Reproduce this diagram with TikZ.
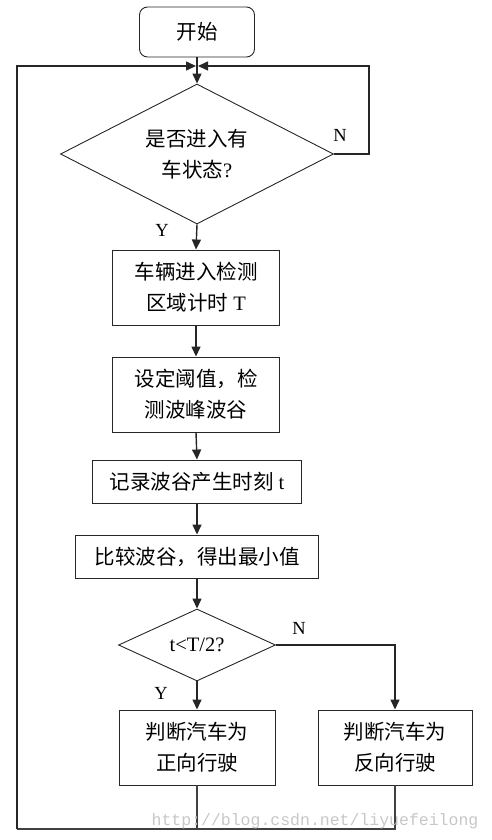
\documentclass[tikz,border=0pt]{standalone}
\usepackage{fontspec}
\setmainfont{Liberation Serif}
\newfontfamily\cjk{Noto Sans CJK SC}
\newfontfamily\wmfont{Liberation Mono}
\usetikzlibrary{shapes.geometric,arrows.meta}
\newcommand{\zh}[1]{{\cjk #1}}
\begin{document}
\begin{tikzpicture}[x=1pt,y=-1pt,
  base/.style={draw=black!85, line width=0.9pt, inner sep=0pt, align=center,
    font=\fontsize{20.5}{31}\selectfont},
  stepbox/.style={base, rectangle},
  startbox/.style={base, rectangle, rounded corners=8pt},
  decision/.style={base, diamond, aspect=2},
  flow/.style={draw=black!85, line width=1.4pt, -{Triangle[length=10pt,width=9pt]}},
  plain/.style={draw=black!75, line width=1.4pt},
  lab/.style={font=\fontsize{18.5}{20}\selectfont, inner sep=0pt}]
\useasboundingbox (0,0) rectangle (492,840);

\node[startbox, minimum width=115pt, minimum height=50pt] (start) at (197,32) {\zh{开始}};
\coordinate (j) at (197,66);
\node[decision, minimum width=273pt, minimum height=140pt] (d1) at (197,154)
  {\zh{是否进入有}\\\zh{车状态}?};
\node[stepbox, minimum width=167pt, minimum height=75pt] (b1) at (196,287.5)
  {\zh{车辆进入检测}\\\zh{区域计时} T};
\node[stepbox, minimum width=167pt, minimum height=75pt] (b2) at (196,394.5)
  {\zh{设定阈值，检}\\\zh{测波峰波谷}};
\node[stepbox, minimum width=209pt, minimum height=43pt] (b3) at (197,481.5)
  {\zh{记录波谷产生时刻} t};
\node[stepbox, minimum width=243pt, minimum height=43pt] (b4) at (197,556.5)
  {\zh{比较波谷，得出最小值}};
\node[decision, minimum width=157pt, minimum height=72pt] (d2) at (197,645)
  {t<T/2?};
\node[stepbox, minimum width=156pt, minimum height=75pt] (b5) at (197,747.5)
  {\zh{判断汽车为}\\\zh{正向行驶}};
\node[stepbox, minimum width=154pt, minimum height=75pt] (b6) at (395,747.5)
  {\zh{判断汽车为}\\\zh{反向行驶}};

\coordinate (jl) at (196,66);
\coordinate (jr) at (198,66);
\coordinate (ll) at (17,66);
\coordinate (lb) at (17,829);
\coordinate (rt) at (369,66);
\coordinate (rb) at (395,829);
\coordinate (mb) at (197,829);

% main flow
\draw[flow] (start.south) -- (d1.north);
\draw[flow] (d1.south) -- (b1.north);
\draw[flow] (b1.south) -- (b2.north);
\draw[flow] (b2.south) -- (b3.north);
\draw[flow] (b3.south) -- (b4.north);
\draw[flow] (b4.south) -- (d2.north);
\draw[flow] (d2.south) -- (b5.north);
\draw[flow] (d2.east) -| (b6.north);
% N loop
\draw[flow] (d1.east) -| (rt) -- (jr);
% return loop
\draw[plain] (b5.south) -- (mb);
\draw[plain] (b6.south) -- (rb) -- (lb);
\draw[flow] (lb) -- (ll) -- (jl);

% labels
\node[lab] (n1) at (340,135) {N};
\node[lab] (y1) at (162,230) {Y};
\node[lab] (n2) at (299,628) {N};
\node[lab] (y2) at (161,693) {Y};

% watermark
\node[inner sep=0pt, text=black!22, font=\wmfont\fontsize{16.5}{18}\selectfont] (wm) at (315,821)
  {http://blog.csdn.net/liyuefeilong};
\end{tikzpicture}
\end{document}
